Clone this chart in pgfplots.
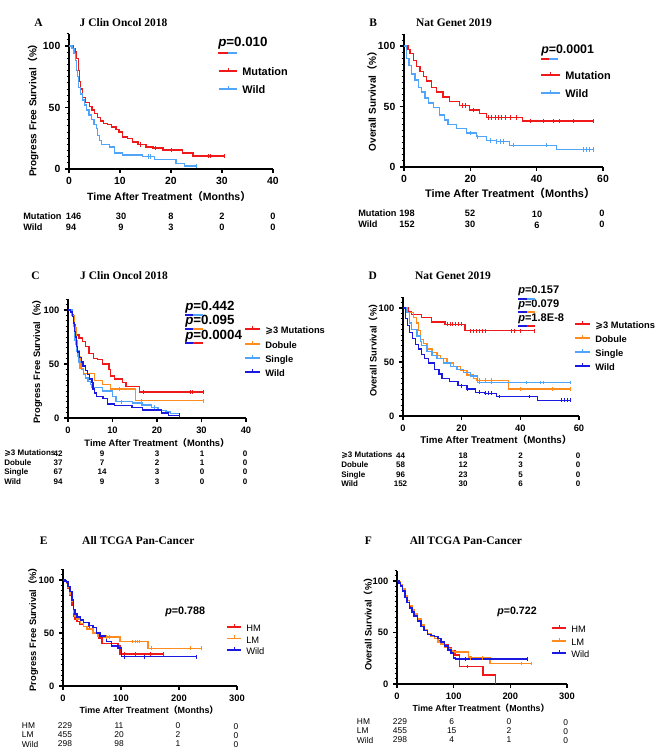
\documentclass[border=0pt]{standalone}
\usepackage{pgfplots}
\pgfplotsset{compat=1.18}
\usepackage{fontspec}
\setmainfont{Liberation Sans}
\newfontfamily\serif{Liberation Serif}
\newfontfamily\dejavu{DejaVu Sans}
\newfontfamily\cjk{Noto Sans CJK SC}
\definecolor{kmred}{RGB}{240,25,25}
\definecolor{kmlb}{RGB}{80,165,250}
\definecolor{kmor}{RGB}{255,140,30}
\definecolor{kmbl}{RGB}{25,25,225}
\newcommand{\fs}[1]{\fontsize{#1}{#1}\selectfont}
\newcommand{\gthree}{{\dejavu ⩾}3 Mutations}
\newcommand{\tlab}{Time After Treatment{\cjk （}Months{\cjk ）}}
% legend sample: \kmlegend{color}{x0}{x1}{y}{text}{font}
\newcommand{\kmlegend}[6]{%
  \draw[draw=#1,line width=1.1pt] (#2,756-#4) -- (#3,756-#4);
  \draw[draw=#1,line width=0.7pt] ({(#2+#3)/2},756-#4) -- ({(#2+#3)/2},756-#4+3);
  \node[anchor=west,inner sep=0pt,text height=0.7em,text depth=0pt,font=#6] at (#3+5,756-#4) {#5};}
\pgfplotsset{
 kmaxis/.style={scale only axis, axis lines*=left, axis line style={-, line width=1.1pt},
   xmin=0, ymin=0, ymax=110, ytick={0,50,100}, minor ytick={5,10,...,110},
   tick align=outside, major tick length=3pt, minor tick length=1.7pt,
   every major tick/.append style={black, line width=0.9pt},
   every minor tick/.append style={black, line width=0.7pt},
   /pgf/number format/assume math mode=true, clip=false},
 km/.style={const plot, line width=1pt, draw=#1},
 cens/.style={draw=none, mark=none, forget plot, error bars/.cd, y dir=both, y fixed=1.8, error mark=none, error bar style={draw=#1, line width=0.6pt}},
}
\begin{document}
\begin{tikzpicture}[x=0.75pt,y=0.75pt]
\path[use as bounding box] (0,0) rectangle (669,756);
% ---------------- A
\begin{axis}[kmaxis, at={(51.75pt,440.25pt)}, anchor=south west, width=153pt, height=101.5pt,
  xmax=40, xtick={0,10,20,30,40}, tick label style={font=\bfseries\fs{7.8}}]
\addplot[km=kmred] coordinates {(0,100)(0.8,98)(1.3,95)(1.5,90)(1.8,80)(2.0,71)(2.3,65)(2.7,58)(3.2,54)(4.0,51)(4.5,48)(5.0,45)(5.6,42)(6.2,39)(6.8,37)(7.5,36)(8.3,34)(9.2,32)(9.8,30)(10.5,26)(11.5,25)(12.5,22)(13.5,20)(15.1,18)(16.5,17)(18.4,15.5)(22.3,13)(24.3,10.5)(30.5,10.5)};
\addplot[km=kmlb] coordinates {(0,100)(0.6,98)(1.0,94)(1.3,88)(1.5,80)(1.7,75)(1.9,66)(2.2,61)(2.6,56)(3.0,52)(3.4,48)(3.9,44)(4.4,40)(4.9,36)(5.4,33)(5.6,27)(6.0,23)(6.4,20)(7.9,18)(8.9,13)(10.5,11.5)(14.4,10)(16.7,7.5)(21,4.6)(22.6,2.4)(25,2.4)};
\addplot[cens=kmred] coordinates {(14,20)(17,17)(20,15.5)(27.3,10.5)(27.8,10.5)(30.5,10.5)};
\addplot[cens=kmlb] coordinates {(15.5,10)(16,10)(25,2.4)};
\end{axis}
% ---------------- B
\begin{axis}[kmaxis, at={(303pt,441.75pt)}, anchor=south west, width=149.25pt, height=99.75pt,
  xmax=60, xtick={0,20,40,60}, tick label style={font=\bfseries\fs{7.8}}]
\addplot[km=kmred] coordinates {(0,100)(1.2,97)(1.8,94)(2.8,88)(3.8,83)(4.8,79)(5.8,75)(6.8,71)(8.3,66)(9.8,62)(11.8,58)(13.8,54)(16.8,51)(19.8,47)(22.8,44)(24.8,41)(35.8,38)(57,38)};
\addplot[km=kmlb] coordinates {(0,100)(0.8,90)(1.5,84)(2.3,77)(3.3,72)(4.3,66)(5.3,62)(6.3,57)(7.3,53)(8.8,49)(10.8,43)(12.3,39)(13.3,35)(15.8,32)(18.8,28)(21.8,25)(24.8,22)(27.8,21)(31.8,18)(45.9,14.6)(57,14.6)};
\addplot[cens=kmred] coordinates {(17.5,51)(18.5,51)(21,47)(25.5,41)(26.5,41)(27.5,41)(28.5,41)(29.5,41)(30.5,41)(32,41)(34,41)(38,38)(42,38)(45,38)(47,38)(51,38)(57,38)};
\addplot[cens=kmlb] coordinates {(20,28)(22,25)(26,22)(28,21)(29,21)(30,21)(33,18)(43,18)(54,14.6)(55,14.6)(56,14.6)(57,14.6)};
\end{axis}
% ---------------- C
\begin{axis}[kmaxis, at={(51pt,253.5pt)}, anchor=south west, width=133.5pt, height=89.1pt,
  xmax=40, xtick={0,10,20,30,40}, tick label style={font=\bfseries\fs{7}}]
\addplot[km=kmred] coordinates {(0,100)(1.0,96)(1.3,86)(1.7,77)(2.5,74)(3.2,71)(4.0,66)(4.7,60)(5.8,55)(6.6,54)(7.7,50)(9.2,45)(9.6,39)(10.4,36)(12.2,33)(13,29)(16,24)(30.5,24)};
\addplot[km=kmor] coordinates {(0,100)(1.0,95)(1.4,84)(1.8,68)(2.2,57)(2.7,46)(3.5,41)(5.9,35)(7.8,31)(9.5,27)(15.2,16)(30.5,16)};
\addplot[km=kmlb] coordinates {(0,100)(0.9,95)(1.3,85)(1.6,72)(2.0,62)(2.5,52)(3.0,45)(3.5,40)(4.0,37)(4.5,34)(5.0,31)(5.4,28)(7.7,25)(10,20)(10.8,15)(14.5,14)(16.6,12)(18.8,10)(20.2,7)(22,5.5)(23,4)(25,4)};
\addplot[km=kmbl] coordinates {(0,100)(0.6,98)(1.0,94)(1.3,88)(1.5,80)(1.7,75)(1.9,66)(2.2,61)(2.6,56)(3.0,52)(3.4,48)(3.9,44)(4.4,40)(4.9,36)(5.4,33)(5.6,27)(6.0,23)(6.4,20)(7.9,18)(8.9,13)(10.5,11.5)(14.4,10)(16.7,7.5)(21,4.6)(22.6,2.4)(25,2.4)};
\addplot[cens=kmred] coordinates {(17,24)(27.5,24)(28,24)(30.5,24)};
\addplot[cens=kmor] coordinates {(11.5,27)(16.5,16)(30.5,16)};
\addplot[cens=kmlb] coordinates {(12,15)(19.5,10)};
\addplot[cens=kmbl] coordinates {(25,2.4)};
\end{axis}
% ---------------- D
\begin{axis}[kmaxis, at={(302.25pt,255pt)}, anchor=south west, width=132pt, height=89.1pt,
  xmax=60, xtick={0,20,40,60}, tick label style={font=\bfseries\fs{7}}]
\addplot[km=kmred] coordinates {(0,100)(1.8,97)(2.9,94)(6.3,91)(9.7,87)(14.3,85)(21.1,79)(44.7,79)};
\addplot[km=kmor] coordinates {(0,100)(1.4,96)(3.6,91)(4.5,86)(5.3,79)(5.9,71)(7,67)(8.2,62)(9.9,59)(11.6,56)(12.7,53)(15,49)(17.2,46)(19.5,42)(21.8,38)(24,35)(25,33)(36,25)(57,25)};
\addplot[km=kmlb] coordinates {(0,100)(1,96)(2.3,86)(3.0,80)(4.8,74)(5.9,69)(6.4,65)(8.2,60)(9.9,56)(11.6,53)(13.9,49)(16.2,46)(18.4,43)(20.7,40)(23,37)(25.3,31)(57,31)};
\addplot[km=kmbl] coordinates {(0,100)(0.8,90)(1.5,84)(2.3,77)(3.3,72)(4.3,66)(5.3,62)(6.3,57)(7.3,53)(8.8,49)(10.8,43)(12.3,39)(13.3,35)(15.8,32)(18.8,28)(21.8,25)(24.8,22)(27.8,21)(31.8,18)(45.9,14.6)(57,14.6)};
\addplot[cens=kmred] coordinates {(15,85)(16,85)(17,85)(18,85)(19,85)(20,85)(23,79)(24,79)(25,79)(26,79)(27,79)(28,79)(37,79)(38,79)(40,79)(44.7,79)};
\addplot[cens=kmor] coordinates {(26,33)(28,33)(30,33)(40,25)(51,25)(57,25)};
\addplot[cens=kmlb] coordinates {(26,31)(30,31)(42,31)(47,31)(48,31)(57,31)};
\addplot[cens=kmbl] coordinates {(20,28)(22,25)(26,22)(28,21)(29,21)(30,21)(33,18)(43,18)(54,14.6)(55,14.6)(56,14.6)(57,14.6)};
\end{axis}
% ---------------- E
\begin{axis}[kmaxis, at={(47.25pt,52.5pt)}, anchor=south west, width=130.5pt, height=87.45pt,
  xmax=300, xtick={0,100,200,300}, tick label style={font=\bfseries\fs{7}}]
\addplot[km=kmred, line width=1.2pt] coordinates {(0,100)(3,99)(6,97)(9,92)(12,86)(15,76)(18,66)(21,63)(24,61)(29,58)(35,56)(46,54)(52,50)(61,45)(67,40)(87,40)(95,38)(98,30)(173,30)};
\addplot[km=kmor, line width=1.2pt] coordinates {(0,100)(3,99)(6,97)(9,93)(12,87)(15,80)(18,70)(21,66)(24,63)(30,59)(35,56)(41,54)(52,50)(60,47)(70,46)(98,42)(147,35.5)(239,35.5)};
\addplot[km=kmbl, line width=1.2pt] coordinates {(0,100)(3,99)(6,98)(9,94)(12,89)(15,81)(18,72)(21,68)(24,65)(30,62)(35,60)(45,57)(52,55)(58,50)(63.5,47)(75,42)(83.6,38)(95,36)(101,27.7)(230,27.7)};
\addplot[cens=kmred] coordinates {(105,30)(125,30)(150,30)(173,30)};
\addplot[cens=kmor] coordinates {(75,46)(80,46)(120,42)(125,42)(128,42)(132,42)(152,35.5)(220,35.5)(239,35.5)};
\addplot[cens=kmbl] coordinates {(105,27.7)(140,27.7)(230,27.7)};
\end{axis}
% ---------------- F
\begin{axis}[kmaxis, at={(297.75pt,54pt)}, anchor=south west, width=127.5pt, height=85pt,
  xmax=300, xtick={0,100,200,300}, tick label style={font=\bfseries\fs{7}}]
\addplot[km=kmred, line width=1.2pt] coordinates {(0,100)(3,98)(6,95)(10,90)(14,85)(18,79)(22,75)(26,71)(30,66)(36,61)(42,56)(48,52)(54,48)(60,46)(66,44)(72,42)(78,40)(84,38)(90,35)(96,32)(102,28)(110,17)(152,8.5)(174,0)};
\addplot[km=kmor, line width=1.2pt] coordinates {(0,100)(3,99)(6,96)(10,92)(14,86)(18,81)(22,76)(26,72)(30,68)(36,63)(42,57)(48,53)(54,49)(60,46)(66,44)(72,41)(78,39)(84,36)(90,34)(96,32)(100,31)(126,26)(131,25)(164,20)(237,20)};
\addplot[km=kmbl, line width=1.2pt] coordinates {(0,100)(3,98)(6,95)(10,90)(14,84)(18,79)(22,74)(26,70)(30,66)(36,61)(42,56)(48,52)(54,48)(60,47)(66,46)(72,44)(78,41)(84,37)(90,33)(95,30)(100,25)(103,24)(230,24)};
\addplot[cens=kmred] coordinates {(125,17)};
\addplot[cens=kmor] coordinates {(130,25)(150,25)(220,20)(237,20)};
\addplot[cens=kmbl] coordinates {(120,24)(230,24)};
\end{axis}
% ---------------- legends
\kmlegend{kmred}{219}{237}{71}{Mutation}{\bfseries\fs{8.2}}
\kmlegend{kmlb}{219}{237}{89}{Wild}{\bfseries\fs{8.2}}
\kmlegend{kmred}{541}{560}{75}{Mutation}{\bfseries\fs{8.2}}
\kmlegend{kmlb}{541}{560}{93}{Wild}{\bfseries\fs{8.2}}
\kmlegend{kmred}{245}{260}{329}{\gthree}{\bfseries\fs{7}}
\kmlegend{kmor}{245}{260}{344}{Dobule}{\bfseries\fs{7}}
\kmlegend{kmlb}{245}{260}{358}{Single}{\bfseries\fs{7}}
\kmlegend{kmbl}{245}{260}{372}{Wild}{\bfseries\fs{7}}
\kmlegend{kmred}{575}{590}{324}{\gthree}{\bfseries\fs{7}}
\kmlegend{kmor}{575}{590}{338}{Dobule}{\bfseries\fs{7}}
\kmlegend{kmlb}{575}{590}{352}{Single}{\bfseries\fs{7}}
\kmlegend{kmbl}{575}{590}{366}{Wild}{\bfseries\fs{7}}
\kmlegend{kmred}{227}{241}{627}{HM}{\fs{7}}
\kmlegend{kmor}{227}{241}{638.5}{LM}{\fs{7}}
\kmlegend{kmbl}{227}{241}{650}{Wild}{\fs{7}}
\kmlegend{kmred}{552}{566}{628}{HM}{\fs{7}}
\kmlegend{kmor}{552}{566}{641}{LM}{\fs{7}}
\kmlegend{kmbl}{552}{566}{653}{Wild}{\fs{7}}
% ---------------- titles
\begin{scope}[every node/.style={font=\serif\bfseries\fs{8.6}}]
\node at (38.5,756-23) {A};  \node at (123.5,756-23) {J Clin Oncol 2018};
\node at (373.3,756-23) {B}; \node at (454,756-23) {Nat Genet 2019};
\node at (35.5,756-276) {C}; \node at (124,756-276) {J Clin Oncol 2018};
\node at (372.8,756-276) {D}; \node at (453,756-276) {Nat Genet 2019};
\node at (43.7,756-541) {E}; \node at (138.3,756-541) {All TCGA Pan-Cancer};
\node at (368.3,756-541) {F}; \node at (466,756-541) {All TCGA Pan-Cancer};
\end{scope}
% ---------------- axis labels
\node[font=\bfseries\fs{7.9}] at (169,756-197) {\tlab};
\node[font=\bfseries\fs{8.2}] at (510,756-193) {\tlab};
\node[font=\bfseries\fs{7}] at (157,756-443) {\tlab};
\node[font=\bfseries\fs{7.3}] at (496,756-440) {\tlab};
\node[font=\bfseries\fs{6.7}] at (149,756-710) {\tlab};
\node[font=\bfseries\fs{6.6}] at (481,756-708) {\tlab};
\node[rotate=90,font=\bfseries\fs{7.5}] at (33,756-108) {Progress Free Survival{\cjk （}\%{\cjk ）}};
\node[rotate=90,font=\bfseries\fs{7.5}] at (372,756-99) {Overall Survival{\cjk （}\%{\cjk ）}};
\node[rotate=90,font=\bfseries\fs{7}] at (37,756-359) {Progress Free Survival{\cjk （}\%{\cjk ）}};
\node[rotate=90,font=\bfseries\fs{7}] at (373,756-348) {Overall Survival{\cjk （}\%{\cjk ）}};
\node[rotate=90,font=\bfseries\fs{7}] at (33,756-627) {Progress Free Survival{\cjk （}\%{\cjk ）}};
\node[rotate=90,font=\bfseries\fs{7}] at (368,756-622) {Overall Survival{\cjk （}\%{\cjk ）}};
% ---------------- p values
\begin{scope}[every node/.style={anchor=west,inner sep=0pt}]
\node[font=\bfseries\fs{10}] at (218,756-43.3) {\textit{p}=0.010};
\node[font=\bfseries\fs{9.3}] at (541,756-50) {\textit{p}=0.0001};
\node[font=\bfseries\fs{10}] at (185,756-307.3) {\textit{p}=0.442};
\node[font=\bfseries\fs{10}] at (185,756-321.7) {\textit{p}=0.095};
\node[font=\bfseries\fs{10}] at (185,756-336.7) {\textit{p}=0.0004};
\node[font=\bfseries\fs{8.3}] at (518,756-290.7) {\textit{p}=0.157};
\node[font=\bfseries\fs{8.3}] at (518,756-305) {\textit{p}=0.079};
\node[font=\bfseries\fs{8.3}] at (518,756-319) {\textit{p}=1.8E-8};
\node[font=\bfseries\fs{8.1}] at (165,756-611.7) {\textit{p}=0.788};
\node[font=\bfseries\fs{8}] at (497,756-611.7) {\textit{p}=0.722};
\end{scope}
\begin{scope}[line width=1.6pt]
\draw[draw=kmred] (218,756-52.7) -- (228,756-52.7); \draw[draw=kmlb] (228,756-52.7) -- (237,756-52.7);
\draw[draw=kmred] (541,756-58.7) -- (549,756-58.7); \draw[draw=kmlb] (549,756-58.7) -- (558,756-58.7);
\draw[draw=kmbl] (185,756-315) -- (193,756-315); \draw[draw=kmlb] (193,756-315) -- (203,756-315);
\draw[draw=kmbl] (185,756-329.3) -- (193,756-329.3); \draw[draw=kmor] (193,756-329.3) -- (203,756-329.3);
\draw[draw=kmbl] (185,756-343.3) -- (193,756-343.3); \draw[draw=kmred] (193,756-343.3) -- (203,756-343.3);
\draw[draw=kmbl] (518,756-299) -- (527,756-299); \draw[draw=kmlb] (527,756-299) -- (535,756-299);
\draw[draw=kmbl] (518,756-312) -- (527,756-312); \draw[draw=kmor] (527,756-312) -- (535,756-312);
\draw[draw=kmbl] (518,756-325.7) -- (527,756-325.7); \draw[draw=kmred] (527,756-325.7) -- (535,756-325.7);
\end{scope}
% ---------------- risk tables
\begin{scope}[every node/.style={font=\bfseries\fs{6.9},inner sep=0pt}]
\node[anchor=west] at (23,756-216) {Mutation}; \node[anchor=west] at (65.7,756-216) {146};
\node at (121,756-216) {30}; \node at (171,756-216) {8}; \node at (222,756-216) {2}; \node at (273,756-216) {0};
\node[anchor=west] at (23,756-227) {Wild}; \node[anchor=west] at (65.7,756-227) {94};
\node at (121,756-227) {9}; \node at (171,756-227) {3}; \node at (222,756-227) {0}; \node at (273,756-227) {0};
\node[anchor=west] at (358,756-213.3) {Mutation}; \node at (407,756-213.3) {198};
\node at (470,756-213.3) {52}; \node at (537,756-214.5) {10}; \node at (602,756-213.3) {0};
\node[anchor=west] at (358,756-224) {Wild}; \node at (407,756-224) {152};
\node at (470,756-224) {30}; \node at (537,756-225.7) {6}; \node at (602,756-224) {0};
\end{scope}
\begin{scope}[every node/.style={font=\bfseries\fs{6},inner sep=0pt}]
\node[anchor=west] at (4,756-453.3) {\gthree}; \node at (58,756-453.3) {42}; \node at (102,756-453.3) {9}; \node at (157,756-453.3) {3}; \node at (202,756-453.3) {1}; \node at (245,756-453.3) {0};
\node[anchor=west] at (4,756-462.7) {Dobule}; \node at (58,756-462.7) {37}; \node at (102,756-462.7) {7}; \node at (157,756-462.7) {2}; \node at (202,756-462.7) {1}; \node at (245,756-462.7) {0};
\node[anchor=west] at (4,756-472) {Single}; \node at (58,756-472) {67}; \node at (102,756-472) {14}; \node at (157,756-472) {3}; \node at (202,756-472) {0}; \node at (245,756-472) {0};
\node[anchor=west] at (4,756-482) {Wild}; \node at (58,756-482) {94}; \node at (102,756-482) {9}; \node at (157,756-482) {3}; \node at (202,756-482) {0}; \node at (245,756-482) {0};
\node[anchor=west] at (341,756-455.7) {\gthree}; \node at (400.5,756-455.7) {44}; \node at (463,756-455.7) {18}; \node at (520.7,756-455.7) {2}; \node at (578,756-455.7) {0};
\node[anchor=west] at (341,756-465) {Dobule}; \node at (400.5,756-465) {58}; \node at (463,756-465) {12}; \node at (520.7,756-465) {3}; \node at (578,756-465) {0};
\node[anchor=west] at (341,756-475) {Single}; \node at (400.5,756-475) {96}; \node at (463,756-475) {23}; \node at (520.7,756-475) {5}; \node at (578,756-475) {0};
\node[anchor=west] at (341,756-484) {Wild}; \node at (400.5,756-484) {152}; \node at (463,756-484) {30}; \node at (520.7,756-484) {6}; \node at (578,756-484) {0};
\end{scope}
\begin{scope}[every node/.style={font=\fs{6.3},inner sep=0pt}]
\node[anchor=west] at (21.7,756-725.7) {HM}; \node at (65,756-725.7) {229}; \node at (119,756-725.7) {11}; \node at (178,756-725.7) {0}; \node at (236,756-726.7) {0};
\node[anchor=west] at (21.7,756-735) {LM}; \node at (65,756-735) {455}; \node at (119,756-735) {20}; \node at (178,756-735) {2}; \node at (236,756-736) {0};
\node[anchor=west] at (21.7,756-744) {Wild}; \node at (65,756-744) {298}; \node at (119,756-744) {98}; \node at (178,756-744) {1}; \node at (236,756-745) {0};
\node[anchor=west] at (356.7,756-721.7) {HM}; \node at (400,756-721.7) {229}; \node at (451.7,756-721.7) {6}; \node at (509,756-721.7) {0}; \node at (565.7,756-722.3) {0};
\node[anchor=west] at (356.7,756-731) {LM}; \node at (400,756-731) {455}; \node at (451.7,756-731) {15}; \node at (509,756-731) {2}; \node at (565.7,756-731.7) {0};
\node[anchor=west] at (356.7,756-740) {Wild}; \node at (400,756-740) {298}; \node at (451.7,756-740) {4}; \node at (509,756-740) {1}; \node at (565.7,756-740.7) {0};
\end{scope}
\end{tikzpicture}
\end{document}
